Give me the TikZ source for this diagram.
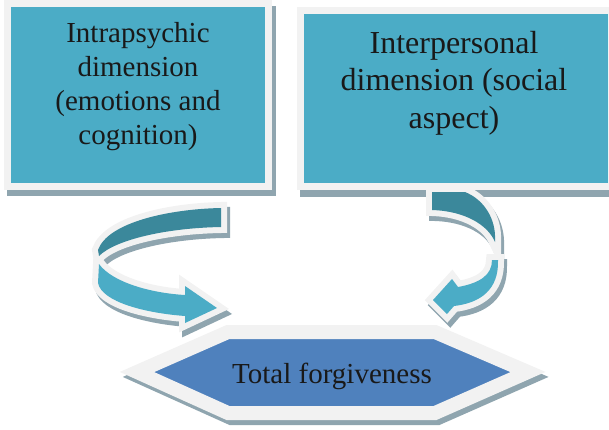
\documentclass[tikz,border=0pt]{standalone}
\usepackage{fontspec}
\setmainfont{Liberation Serif}
\usepackage{tikz}
\usepackage{xcolor}
\definecolor{boxteal}{RGB}{75,172,198}
\definecolor{bandteal}{RGB}{59,136,155}
\definecolor{hexblue}{RGB}{79,129,189}
\definecolor{rimwhite}{RGB}{242,242,242}
\definecolor{shadowgray}{RGB}{143,165,175}
\newcommand{\leftback}{(221,208) .. controls (170,209) and (108,222) .. (98,250) -- (99,256) .. controls (115,240) and (165,228) .. (221,227) -- cycle}
\newcommand{\leftfront}{(99,264) .. controls (112,282) and (150,293) .. (185,295) -- (185,286) -- (217,308) -- (185,323) -- (185,316) .. controls (145,313) and (102,302) .. (98,283) -- cycle}
\newcommand{\rightback}{(432,192) -- (465,192) .. controls (485,200) and (496,220) .. (495,240) -- (495,242) .. controls (488,225) and (465,211) .. (432,210) -- cycle}
\newcommand{\rightfront}{(492,260) .. controls (492,275) and (480,283) .. (458,287) -- (452,279) -- (433,300) -- (447,314) -- (454,306) .. controls (480,303) and (499,290) .. (498,260) -- cycle}
\newcommand{\hexpath}{(137,372) -- (228,332) -- (435,332) -- (528,372) -- (435,413) -- (228,413) -- cycle}

\begin{document}
\begin{tikzpicture}[x=1pt,y=-1pt,
  rim/.style={draw=rimwhite,line width=12pt},
  shade/.style={draw=shadowgray,fill=shadowgray,line width=12pt},
  label/.style={align=center,text=black!90}]
\useasboundingbox (0,0) rectangle (609,429);
\clip (0,0) rectangle (609,429);
% the two boxes
\fill[shadowgray] (7,6) rectangle (276,196);
\fill[shadowgray] (300,12) rectangle (618,197);
\fill[rimwhite] (3.5,0) rectangle (272,190);
\fill[boxteal] (10.5,7) rectangle (265,183);
\fill[rimwhite] (297,7) rectangle (615,190);
\fill[boxteal] (304,14) rectangle (608,183);
% hexagon
\begin{scope}[shift={(3,5)}]
\filldraw[shadowgray,line width=14pt] \hexpath;
\end{scope}
\filldraw[draw=rimwhite,fill=hexblue,line width=14pt] \hexpath;
% curved arrows
\begin{scope}[shift={(3,5)}]
\filldraw[shade] \leftback;
\filldraw[shade] \leftfront;
\filldraw[shade] \rightback;
\filldraw[shade] \rightfront;
\end{scope}
\draw[rim] \leftback;
\draw[rim] \leftfront;
\draw[rim] \rightback;
\draw[rim] \rightfront;
\fill[bandteal] \leftback;
\fill[boxteal] \leftfront;
\fill[bandteal] \rightback;
\fill[boxteal] \rightfront;
% texts
\node[label,font=\fontsize{29}{34}\selectfont] (intra) at (138,87) {Intrapsychic\\dimension\\(emotions and\\cognition)};
\node[label,font=\fontsize{32}{37.5}\selectfont] (inter) at (454,83) {Interpersonal\\dimension (social\\aspect)};
\node[label,font=\fontsize{29}{34}\selectfont,anchor=base] (total) at (332,383) {Total forgiveness};
\end{tikzpicture}
\end{document}
